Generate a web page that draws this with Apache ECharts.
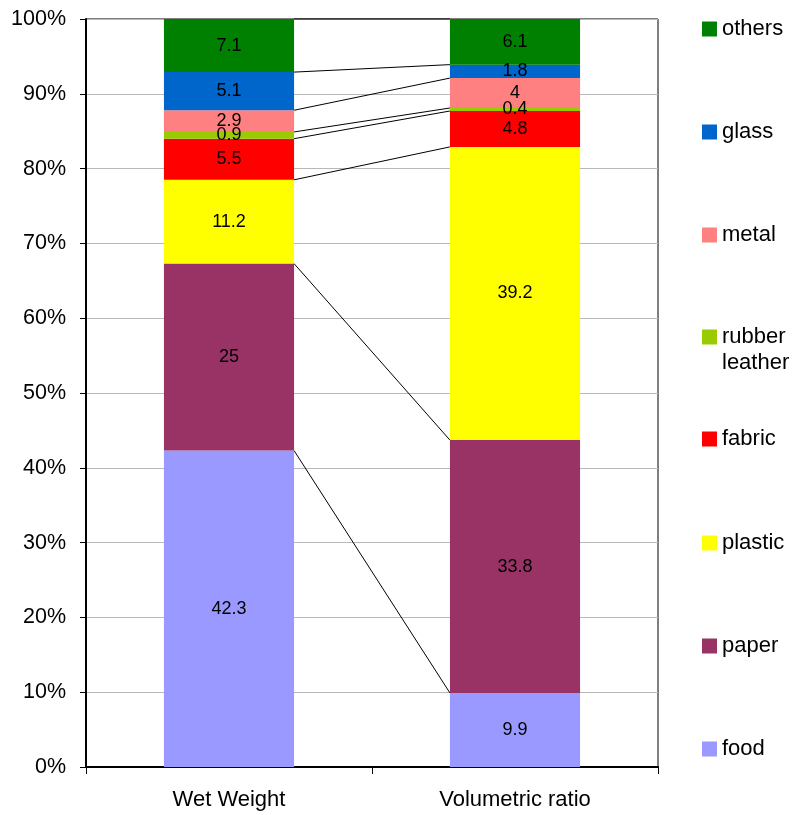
<!DOCTYPE html>
<html>
<head>
<meta charset="utf-8">
<title>Waste composition</title>
<script src="https://cdn.jsdelivr.net/npm/echarts@6/dist/echarts.min.js"></script>
<style>
  html, body { margin: 0; padding: 0; background: #fff; }
  #chart { width: 793px; height: 815px; }
</style>
</head>
<body>
<div id="chart"></div>
<script>
// Categories on the x axis
const categories = ['Wet Weight', 'Volumetric ratio'];

// Stack order, bottom to top
const seriesNames = ['food', 'paper', 'plastic', 'fabric', 'rubber leather', 'metal', 'glass', 'others'];
const seriesColors = ['#9999FF', '#993366', '#FFFF00', '#FF0000', '#99CC00', '#FF8080', '#0066CC', '#008000'];

// Share (%) per category for each component
const food          = [42.3, 9.9];
const paper         = [25.0, 33.8];
const plastic       = [11.2, 39.2];
const fabric        = [5.5, 4.8];
const rubberLeather = [0.9, 0.4];
const metal         = [2.9, 4.0];
const glass         = [5.1, 1.8];
const others        = [7.1, 6.1];

const values = [food, paper, plastic, fabric, rubberLeather, metal, glass, others];

// Y axis ticks
const yTicks = [0, 10, 20, 30, 40, 50, 60, 70, 80, 90, 100];

// Legend rows, top to bottom, with vertical centre of each icon
const legendOrder = ['others', 'glass', 'metal', 'rubber leather', 'fabric', 'plastic', 'paper', 'food'];
const legendCenters = [29, 132, 235, 337, 439, 543, 646, 749];

const FONT = "'Liberation Sans', Arial, sans-serif";
const BAR_RATIO = 0.455;
const LEGEND_LINE = 26;

// Cumulative top of each stacked segment, per category (used for connector lines)
const tops = [];
const running = [0, 0];
values.forEach(function (arr) {
  running[0] += arr[0];
  running[1] += arr[1];
  tops.push([0, +running[0].toFixed(2), +running[1].toFixed(2)]);
});

const barSeries = seriesNames.map(function (name, i) {
  return {
    name: name,
    type: 'bar',
    stack: 'total',
    barWidth: (BAR_RATIO * 100) + '%',
    itemStyle: { color: seriesColors[i] },
    label: {
      show: true,
      position: 'inside',
      color: '#000',
      fontFamily: FONT,
      fontSize: 18,
      formatter: function (p) { return String(p.value); }
    },
    emphasis: { disabled: true },
    data: values[i]
  };
});

// Series lines linking segment tops between the two bars
const connectorSeries = {
  type: 'custom',
  name: 'connectors',
  silent: true,
  encode: { x: 0, y: [1, 2] },
  renderItem: function (params, api) {
    const a = api.coord([0, api.value(1)]);
    const b = api.coord([1, api.value(2)]);
    const half = api.size([1, 0])[0] * BAR_RATIO / 2;
    return {
      type: 'line',
      shape: { x1: a[0] + half, y1: a[1], x2: b[0] - half, y2: b[1] },
      style: { stroke: '#000', lineWidth: 1 }
    };
  },
  data: tops
};

// One legend block per row so each row sits at its own height
const legends = legendOrder.map(function (name, i) {
  const idx = seriesNames.indexOf(name);
  return {
    left: 702,
    top: legendCenters[i] - LEGEND_LINE / 2,
    orient: 'vertical',
    padding: 0,
    itemWidth: 15,
    itemHeight: 15,
    itemGap: 0,
    selectedMode: false,
    icon: 'rect',
    data: [{ name: name, itemStyle: { color: seriesColors[idx] } }],
    // the two-word entry wraps; its second word is drawn just below
    formatter: function (n) { return n === 'rubber leather' ? 'rubber' : n; },
    textStyle: {
      fontFamily: FONT,
      fontSize: 22,
      color: '#000',
      lineHeight: LEGEND_LINE
    }
  };
});

const rubberRow = legendOrder.indexOf('rubber leather');

const option = {
  animation: false,
  backgroundColor: '#fff',
  grid: {
    left: 86, right: 135, top: 19, bottom: 48,
    show: true,
    borderColor: '#000',
    borderWidth: 1,
    backgroundColor: 'transparent'
  },
  legend: legends,
  graphic: [{
    type: 'text',
    left: 722,
    top: legendCenters[rubberRow] + LEGEND_LINE - LEGEND_LINE / 2,
    silent: true,
    style: {
      text: 'leather',
      fill: '#000',
      font: '22px ' + FONT,
      lineHeight: LEGEND_LINE,
      height: LEGEND_LINE,
      verticalAlign: 'top'
    }
  }],
  xAxis: {
    type: 'category',
    data: categories,
    axisLine: { show: true, lineStyle: { color: '#000', width: 2 } },
    axisTick: { show: true, length: 7, alignWithLabel: false, lineStyle: { color: '#000', width: 1 } },
    axisLabel: { color: '#000', fontFamily: FONT, fontSize: 22, margin: 22 }
  },
  yAxis: {
    type: 'value',
    min: yTicks[0],
    max: yTicks[yTicks.length - 1],
    interval: yTicks[1] - yTicks[0],
    axisLine: { show: true, lineStyle: { color: '#000', width: 2 } },
    axisTick: { show: true, length: 6, lineStyle: { color: '#000', width: 1 } },
    axisLabel: { color: '#000', fontFamily: FONT, fontSize: 21.5, margin: 20, formatter: '{value}%' },
    splitLine: { show: true, lineStyle: { color: '#b8b8b8', width: 1 } }
  },
  series: barSeries.concat([connectorSeries])
};

const chart = echarts.init(document.getElementById('chart'), null, { renderer: 'canvas' });
chart.setOption(option);
</script>
</body>
</html>
